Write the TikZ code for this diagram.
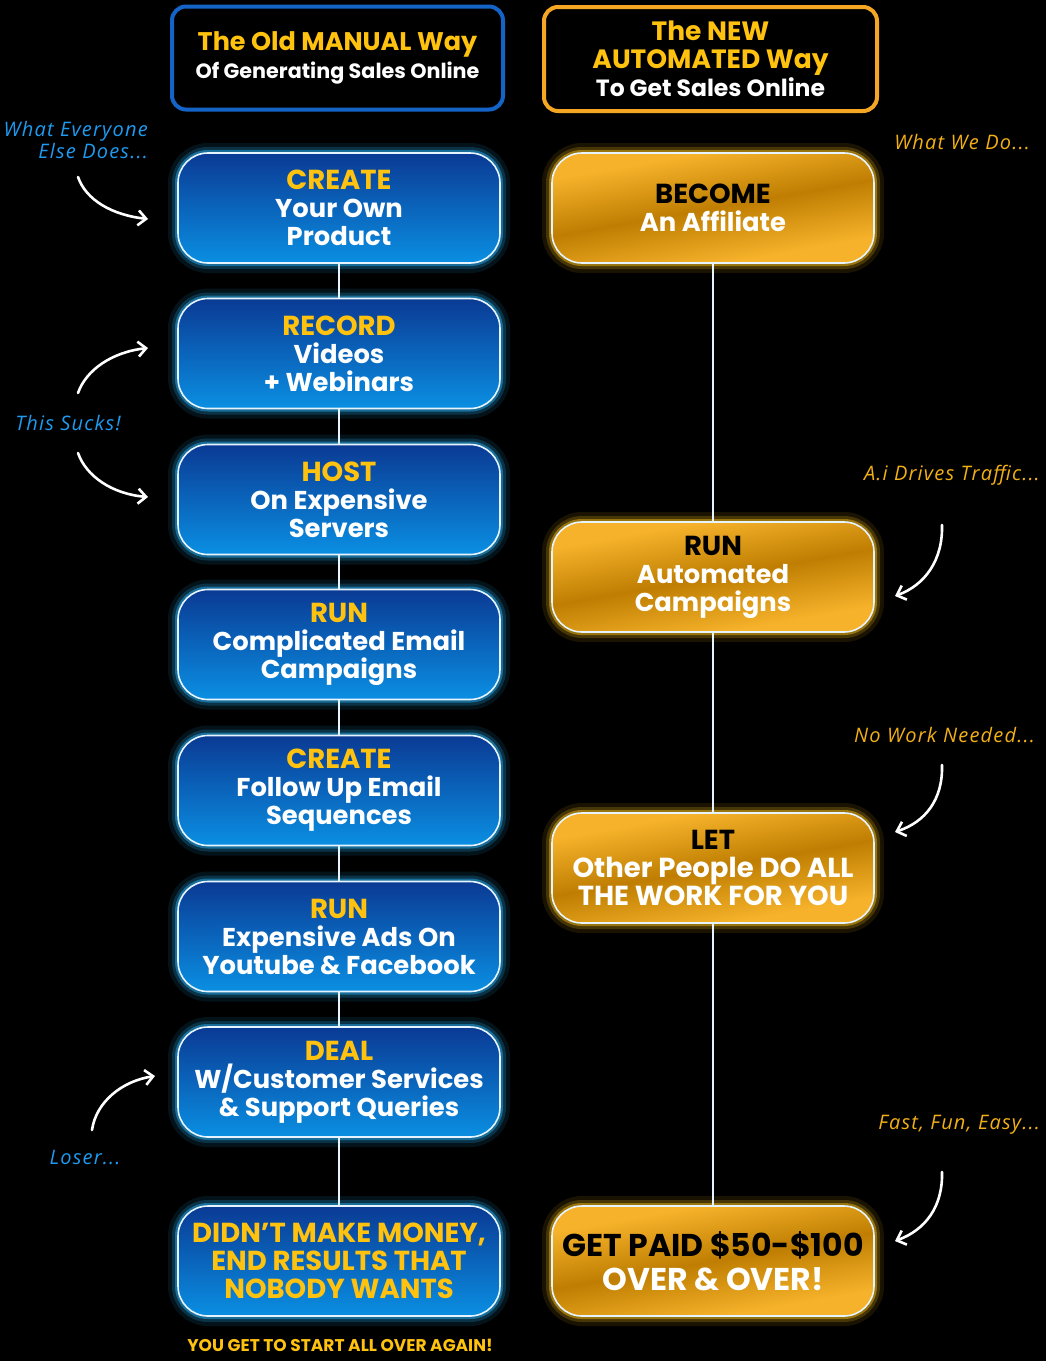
\documentclass[tikz,border=0pt]{standalone}
\usepackage{fontspec}
\setmainfont{Poppins}
\newfontfamily\hand{Open Sans}[LetterSpace=6]
\usetikzlibrary{arrows.meta}
\definecolor{ylw}{HTML}{FFC20E}
\definecolor{bluetop}{HTML}{0A3A94}
\definecolor{bluebot}{HTML}{0A8FE2}
\definecolor{glowb}{HTML}{2AB8FF}
\definecolor{gold1}{HTML}{F6B22A}
\definecolor{gold2}{HTML}{BF7E02}
\definecolor{glowy}{HTML}{FFC21A}
\definecolor{handb}{HTML}{1E9BF0}
\definecolor{handy}{HTML}{F2B015}
\definecolor{hdrblue}{HTML}{1464C8}
\definecolor{hdrgold}{HTML}{F5A623}
\definecolor{edge}{HTML}{E6F4FF}
\pgfdeclarehorizontalshading{goldband}{100bp}{color(0bp)=(gold1); color(30bp)=(gold1); color(50bp)=(gold2); color(70bp)=(gold1); color(100bp)=(gold1)}
\newcommand{\caps}{\fontsize{27.5}{28}\selectfont}
\tikzset{
  blueglow/.style={preaction={draw=glowb,line width=20pt,opacity=0.10},
                   preaction={draw=glowb,line width=12pt,opacity=0.20},
                   preaction={draw=glowb,line width=6pt,opacity=0.45}},
  goldglow/.style={preaction={draw=glowy,line width=20pt,opacity=0.10},
                   preaction={draw=glowy,line width=12pt,opacity=0.20},
                   preaction={draw=glowy,line width=6pt,opacity=0.45}},
  boxbase/.style={rounded corners=30pt, minimum width=322pt, minimum height=110pt,
                  draw=edge, line width=1.6pt, align=center, inner sep=0pt,
                  font=\bfseries\fontsize{25.8}{28}\selectfont},
  lbox/.style={boxbase, blueglow, top color=bluetop, bottom color=bluebot, text=white},
  rbox/.style={boxbase, goldglow, shading=goldband, shading angle=100, text=white},
  hdr/.style={rounded corners=14pt, line width=4pt, fill=black, align=center,
              text=white, font=\bfseries\fontsize{20.7}{28}\selectfont},
  conn/.style={draw=edge, line width=2pt},
  harrow/.style={draw=white, line width=2.6pt, line cap=round,
                 -{Straight Barb[length=8pt,width=15pt,line width=2.6pt]}},
  handL/.style={text=handb, font=\hand\itshape\fontsize{20}{22}\selectfont, align=right, inner sep=0pt},
  handR/.style={text=handy, font=\hand\itshape\fontsize{20}{22}\selectfont, inner sep=0pt},
}
\begin{document}
\begin{tikzpicture}[x=1pt,y=-1pt]
\fill[black] (0,0) rectangle (1046,1361);
\useasboundingbox (0,0) rectangle (1046,1361);

% headers
\node[hdr, draw=hdrblue, minimum width=331pt, minimum height=103pt] (hl) at (337.5,58)
  {{\color{ylw}\fontsize{25.5}{28}\selectfont The Old MANUAL Way}\\Of Generating Sales Online};
\node[hdr, draw=hdrgold, minimum width=333pt, minimum height=104pt] (hr) at (710.5,59)
  {{\color{ylw}\fontsize{26.5}{28}\selectfont The NEW}\\{\color{ylw}\fontsize{26.5}{28}\selectfont AUTOMATED Way}\\{\fontsize{23.5}{28}\selectfont To Get Sales Online}};

% left column
\node[lbox] (l1) at (339,208)   {{\color{ylw}\caps CREATE}\\Your Own\\Product};
\node[lbox] (l2) at (339,353.5) {{\color{ylw}\caps RECORD}\\Videos\\+ Webinars};
\node[lbox] (l3) at (339,499.5) {{\color{ylw}\caps HOST}\\On Expensive\\Servers};
\node[lbox] (l4) at (339,644.5) {{\color{ylw}\caps RUN}\\Complicated Email\\Campaigns};
\node[lbox] (l5) at (339,790.5) {{\color{ylw}\caps CREATE}\\Follow Up Email\\Sequences};
\node[lbox] (l6) at (339,936.5) {{\color{ylw}\caps RUN}\\Expensive Ads On\\Youtube \& Facebook};
\node[lbox] (l7) at (339,1082)  {{\color{ylw}\caps DEAL}\\W/Customer Services\\\& Support Queries};
\node[lbox, text=ylw, font=\bfseries\caps] (l8) at (339,1261) {DIDN’T MAKE MONEY,\\END RESULTS THAT\\NOBODY WANTS};
\node[text=ylw, font=\bfseries\fontsize{17}{18}\selectfont] (again) at (340,1345) {YOU GET TO START ALL OVER AGAIN!};

% right column
\node[rbox] (r1) at (713,208)  {{\color{black}\caps BECOME}\\An Affiliate};
\node[rbox] (r2) at (713,577)  {{\color{black}\caps RUN}\\Automated\\Campaigns};
\node[rbox, font=\bfseries\caps] (r3) at (713,868)  {{\color{black}LET}\\Other People DO ALL\\THE WORK FOR YOU};
\node[rbox, font=\bfseries\fontsize{31.5}{34}\selectfont] (r4) at (713,1261) {{\color{black}GET PAID \$50-\$100}\\OVER \& OVER!};

% connectors
\foreach \a/\b in {l1/l2,l2/l3,l3/l4,l4/l5,l5/l6,l6/l7,l7/l8,r1/r2,r2/r3,r3/r4}
  \draw[conn] (\a.south) -- (\b.north);

% hand annotations
\node[handL, anchor=north east] (t1) at (148,121) {What Everyone\\Else Does...};
\node[handL, anchor=center] (t2) at (68,423) {This Sucks!};
\node[handL, anchor=center] (t3) at (85,1157) {Loser...};
\node[handR, anchor=east] (t4) at (1030,142) {What We Do...};
\node[handR, anchor=east] (t5) at (1040,475) {A.i Drives Traffic...};
\node[handR, anchor=east] (t6) at (1035,735) {No Work Needed...};
\node[handR, anchor=east] (t7) at (1040,1125) {Fast, Fun, Easy...};

\coordinate (a1s) at (78,177);  \coordinate (a1e) at (148,219);
\coordinate (a2s) at (78,393);  \coordinate (a2e) at (148,348);
\coordinate (a3s) at (78,453);  \coordinate (a3e) at (148,497);
\coordinate (a4s) at (92,1130); \coordinate (a4e) at (155,1076);
\coordinate (a5s) at (942,525); \coordinate (a5e) at (895,596);
\coordinate (a6s) at (942,765); \coordinate (a6e) at (895,832);
\coordinate (a7s) at (942,1172);\coordinate (a7e) at (895,1241);

\draw[harrow] (a1s) .. controls (86,200) and (112,215) .. (a1e);
\draw[harrow] (a2s) .. controls (86,370) and (112,352) .. (a2e);
\draw[harrow] (a3s) .. controls (86,476) and (112,494) .. (a3e);
\draw[harrow] (a4s) .. controls (96,1102) and (122,1081) .. (a4e);
\draw[harrow] (a5s) .. controls (943,560) and (925,585) .. (a5e);
\draw[harrow] (a6s) .. controls (943,800) and (925,822) .. (a6e);
\draw[harrow] (a7s) .. controls (943,1207) and (925,1230) .. (a7e);
\end{tikzpicture}
\end{document}
